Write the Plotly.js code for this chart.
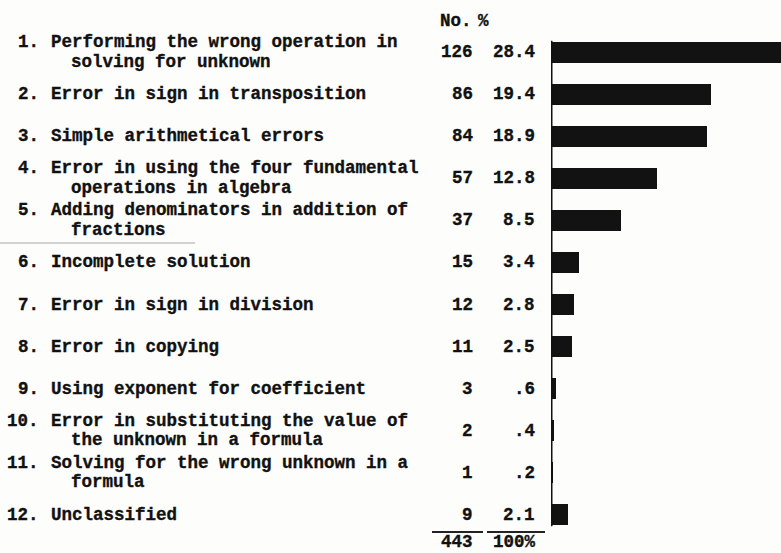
<!DOCTYPE html>
<html>
<head>
<meta charset="utf-8">
<script src="https://cdn.plot.ly/plotly-3.0.1.min.js"></script>
<style>
  html, body { margin: 0; padding: 0; background: #fdfdfc; }
  #chart { width: 781px; height: 553px; }
  #chart .annotation-text { stroke: #111; stroke-width: 0.35px; }
</style>
</head>
<body>
<div id="chart"></div>
<script>
// ---- data ----
var itemNumbers = ["1.", "2.", "3.", "4.", "5.", "6.", "7.", "8.", "9.", "10.", "11.", "12."];
var itemLabels = [
  ["Performing the wrong operation in", "solving for unknown"],
  ["Error in sign in transposition"],
  ["Simple arithmetical errors"],
  ["Error in using the four fundamental", "operations in algebra"],
  ["Adding denominators in addition of", "fractions"],
  ["Incomplete solution"],
  ["Error in sign in division"],
  ["Error in copying"],
  ["Using exponent for coefficient"],
  ["Error in substituting the value of", "the unknown in a formula"],
  ["Solving for the wrong unknown in a", "formula"],
  ["Unclassified"]
];
var counts = [126, 86, 84, 57, 37, 15, 12, 11, 3, 2, 1, 9];
var percents = [28.4, 19.4, 18.9, 12.8, 8.5, 3.4, 2.8, 2.5, 0.6, 0.4, 0.2, 2.1];
var percentText = ["28.4", "19.4", "18.9", "12.8", "8.5", "3.4", "2.8", "2.5", ".6", ".4", ".2", "2.1"];
var headers = ["No.", "%"];
var totals = ["443", "100%"];

// ---- layout geometry ----
var W = 781, H = 553;
var L = 551, R = 0, T = 31, B = 17;
var PW = W - L - R, PH = H - T - B;
var pxPerPct = 8.25;
function px(xp) { return (xp - L) / PW; }          // pixel -> paper x
function py(yp) { return 1 - (yp - T) / PH; }      // pixel -> paper y

var FONT = { family: "Liberation Mono, Courier New, monospace", size: 17.5, color: "#111111" };
var idx = itemLabels.map(function (_, i) { return i; });

var annotations = [];
function addText(text, x, xanchor, y, yref, yshift, yanchor) {
  annotations.push({
    text: "<b>" + text + "</b>",
    xref: "paper", x: x, xanchor: xanchor,
    yref: yref, y: y, yanchor: yanchor || "middle", yshift: yshift || 0,
    showarrow: false, font: FONT, borderpad: 0
  });
}

for (var i = 0; i < itemLabels.length; i++) {
  var lines = itemLabels[i];
  var off = lines.length === 2 ? [10, -9.5] : [0];
  addText(itemNumbers[i], px(40), "right", i, "y", off[0]);
  for (var k = 0; k < lines.length; k++) {
    addText(lines[k], px(k === 0 ? 50 : 70), "left", i, "y", off[k]);
  }
  addText(String(counts[i]), px(474), "right", i, "y", 0);
  addText(percentText[i], px(536), "right", i, "y", 0);
}
// headers
addText(headers[0], px(439), "left", py(21), "paper", 0);
addText(headers[1], px(477), "left", py(21), "paper", 0);
// totals
addText(totals[0], px(474), "right", py(553), "paper", 0, "bottom");
addText(totals[1], px(537), "right", py(553), "paper", 0, "bottom");

var shapes = [
  // vertical baseline of bars
  { type: "line", xref: "x", yref: "y", x0: 0, x1: 0, y0: -0.27, y1: itemLabels.length - 1 + 0.27,
    line: { color: "#111", width: 3 } },
  // total rules
  { type: "line", xref: "paper", yref: "paper", x0: px(432), x1: px(483), y0: py(532), y1: py(532),
    line: { color: "#222", width: 2 } },
  { type: "line", xref: "paper", yref: "paper", x0: px(487), x1: px(545), y0: py(532), y1: py(532),
    line: { color: "#222", width: 2 } },
  // faint rule under item 5 (scan mark)
  { type: "line", xref: "paper", yref: "paper", x0: px(0), x1: px(195), y0: py(243), y1: py(243),
    line: { color: "#a8a8a8", width: 1.2 } }
];

var trace = {
  type: "bar",
  orientation: "h",
  x: percents,
  y: idx,
  width: 0.5,
  marker: { color: "#121212", line: { width: 0 } },
  hoverinfo: "skip"
};

var layout = {
  width: W, height: H,
  margin: { l: L, r: R, t: T, b: B, pad: 0 },
  paper_bgcolor: "#fdfdfc",
  plot_bgcolor: "#fdfdfc",
  showlegend: false,
  xaxis: { range: [0, PW / pxPerPct], visible: false, fixedrange: true },
  yaxis: { range: [itemLabels.length - 0.5, -0.5], visible: false, fixedrange: true },
  bargap: 0,
  annotations: annotations,
  shapes: shapes
};

Plotly.newPlot("chart", [trace], layout, { displayModeBar: false, staticPlot: true });
</script>
</body>
</html>
